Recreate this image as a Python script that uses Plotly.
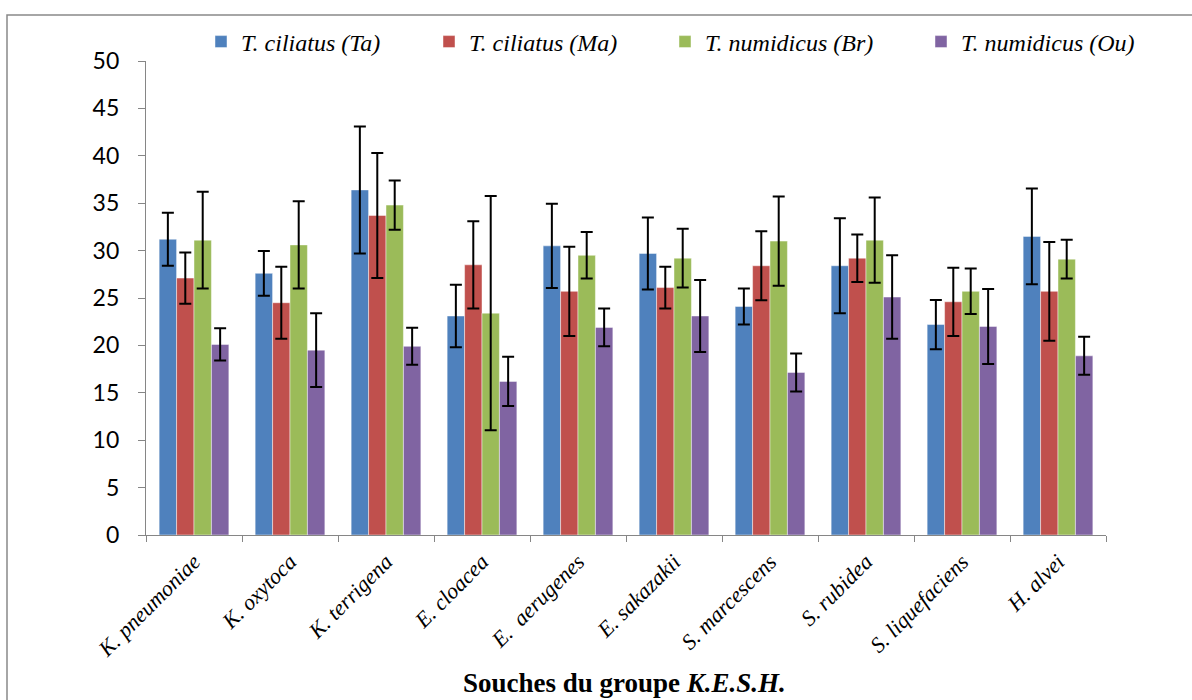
import plotly.graph_objects as go

categories = ["K. pneumoniae", "K. oxytoca", "K. terrigena", "E. cloacea", "E.  aerugenes",
              "E. sakazakii", "S. marcescens", "S. rubidea", "S. liquefaciens", "H. alvei"]

series_names = ["T. ciliatus (Ta)", "T. ciliatus (Ma)", "T. numidicus (Br)", "T. numidicus (Ou)"]

ta_mean = [31.2, 27.6, 36.4, 23.1, 30.5, 29.7, 24.1, 28.4, 22.2, 31.5]
ta_err = [2.8, 2.35, 6.7, 3.3, 4.45, 3.8, 1.9, 5.0, 2.6, 5.05]
ma_mean = [27.1, 24.5, 33.7, 28.5, 25.7, 26.1, 28.4, 29.2, 24.6, 25.7]
ma_err = [2.7, 3.8, 6.6, 4.6, 4.7, 2.2, 3.65, 2.5, 3.6, 5.2]
br_mean = [31.1, 30.6, 34.8, 23.4, 29.5, 29.2, 31.0, 31.1, 25.7, 29.1]
br_err = [5.1, 4.6, 2.6, 12.35, 2.45, 3.1, 4.7, 4.5, 2.4, 2.05]
ou_mean = [20.1, 19.5, 19.9, 16.2, 21.9, 23.1, 17.15, 25.1, 22.0, 18.9]
ou_err = [1.7, 3.9, 1.95, 2.6, 2.0, 3.8, 2.0, 4.4, 3.95, 2.0]

y_ticks = [0, 5, 10, 15, 20, 25, 30, 35, 40, 45, 50]

colors = ["#4F81BD", "#C0504D", "#9BBB59", "#8064A2"]
means = [ta_mean, ma_mean, br_mean, ou_mean]
errs = [ta_err, ma_err, br_err, ou_err]

W, H = 1192, 700
L, R, T, B = 146, 86, 61, 165
pw, ph = W - L - R, H - T - B

def px_x(x):
    return (x - L) / pw

def px_y(y):
    return (H - B - y) / ph

legend_names = ["legend", "legend2", "legend3", "legend4"]
symbol_centers = [226, 454, 690, 946]

fig = go.Figure()
for i in range(4):
    fig.add_trace(go.Bar(
        x=categories, y=means[i], name=series_names[i],
        marker=dict(color=colors[i], line=dict(color="rgba(255,255,255,0.45)", width=1)),
        error_y=dict(type="data", array=errs[i], visible=True, color="#000000",
                     thickness=2, width=6),
        legend=legend_names[i],
    ))

layout_legends = {}
for i in range(4):
    layout_legends[legend_names[i]] = dict(
        x=px_x(symbol_centers[i] - 25), y=px_y(42), xanchor="left", yanchor="middle",
        orientation="h", bgcolor="rgba(0,0,0,0)", itemwidth=30,
        font=dict(family="Liberation Serif", size=24, color="#000000", style="italic"),
    )

fig.update_layout(
    width=W, height=H,
    margin=dict(l=L, r=R, t=T, b=B),
    paper_bgcolor="white", plot_bgcolor="white",
    barmode="group", bargap=0.274, bargroupgap=0,
    showlegend=True,
    **layout_legends,
    xaxis=dict(
        type="category", showline=True, linecolor="#868686", linewidth=1.3,
        ticks="outside", tickson="boundaries", ticklen=6, tickcolor="#868686", tickwidth=1.3,
        tickangle=-45, showgrid=False, ticklabelstandoff=4,
        tickfont=dict(family="Liberation Serif", size=22, color="#000000", style="italic"),
    ),
    yaxis=dict(
        range=[0, 50], tickvals=y_ticks, showline=True, linecolor="#868686", linewidth=1.3,
        ticks="outside", ticklen=7, tickcolor="#868686", tickwidth=1.3, showgrid=False,
        zeroline=False, ticklabelstandoff=14,
        tickfont=dict(family="Lato", size=23, color="#000000"),
    ),
    annotations=[dict(
        text="<b>Souches du groupe <i>K.E.S.H.</i></b>", xref="paper", yref="paper",
        x=px_x(624), y=px_y(683), xanchor="center", yanchor="middle", showarrow=False,
        font=dict(family="Liberation Serif", size=27, color="#000000"),
    )],
    shapes=[dict(
        type="rect", xref="paper", yref="paper",
        x0=px_x(7), x1=px_x(1215), y0=px_y(720), y1=px_y(15),
        line=dict(color="#898989", width=1.5), fillcolor="rgba(0,0,0,0)", layer="below",
    )],
)

fig.write_html("out.html")
